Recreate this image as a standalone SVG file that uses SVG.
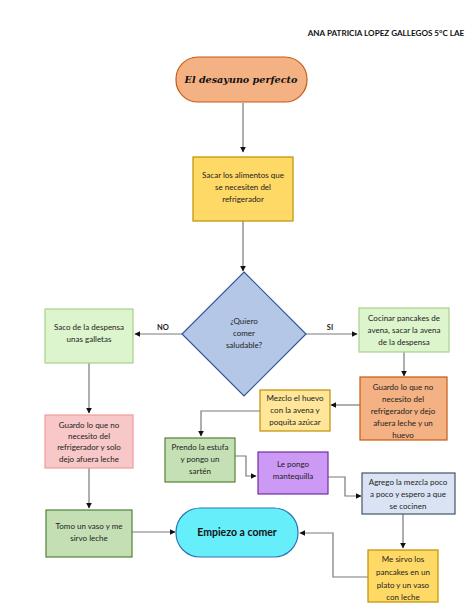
<svg xmlns="http://www.w3.org/2000/svg" width="474" height="613" viewBox="0 0 474 613">
<style>
text{font-family:Lato,"Liberation Sans",sans-serif;font-size:8px;fill:#222;text-anchor:middle}
.b{font-weight:bold}
.c{fill:none;stroke:#7a7a7a;stroke-width:1.2}
</style>
<defs>
<marker id="ah" viewBox="0 0 10 10" refX="9" refY="5" markerWidth="5" markerHeight="5" orient="auto"><path d="M0,0L10,5L0,10z" fill="#111"/></marker>
</defs>
<rect width="474" height="613" fill="#fff"/>
<text x="386" y="36" class="b" style="font-size:8.1px;fill:#111">ANA PATRICIA LOPEZ GALLEGOS 5°C LAE</text>

<g id="connectors">
<path class="c" d="M243,103V152" marker-end="url(#ah)"/>
<path class="c" d="M243,221V271" marker-end="url(#ah)"/>
<path class="c" d="M182,334H135" marker-end="url(#ah)"/>
<path class="c" d="M306,334H357" marker-end="url(#ah)"/>
<path class="c" d="M404,352V376" marker-end="url(#ah)"/>
<path class="c" d="M360,405H331" marker-end="url(#ah)"/>
<path class="c" d="M260,411H201V436" marker-end="url(#ah)"/>
<path class="c" d="M235,456H246V476H256" marker-end="url(#ah)"/>
<path class="c" d="M328,477H345V496H361" marker-end="url(#ah)"/>
<path class="c" d="M403,514V548" marker-end="url(#ah)"/>
<path class="c" d="M368,577H333V533H300" marker-end="url(#ah)"/>
<path class="c" d="M89,363V413" marker-end="url(#ah)"/>
<path class="c" d="M89,468V508" marker-end="url(#ah)"/>
<path class="c" d="M132,532H175" marker-end="url(#ah)"/>
<text x="163" y="330" class="b" style="font-size:7.5px">NO</text>
<text x="330" y="330" class="b" style="font-size:7.5px">SI</text>
</g>

<g id="start">
<rect x="176" y="57" width="131" height="45" rx="22" fill="#F4B183" stroke="#C55A11" stroke-width="1.2"/>
<text x="241" y="83" style="font-family:'DejaVu Serif',serif;font-style:italic;font-weight:bold;font-size:9.6px;fill:#111">El desayuno perfecto</text>
</g>

<g id="sacar">
<rect x="193" y="157" width="100" height="64" fill="#FFD966" stroke="#BF9000" stroke-width="1.2"/>
<text x="243" y="178">Sacar los alimentos que</text>
<text x="243" y="190">se necesiten del</text>
<text x="243" y="202">refrigerador</text>
</g>

<g id="decision">
<polygon points="244,272 306,334 244,396 182,334" fill="#B4C7E7" stroke="#2F5597" stroke-width="1.2"/>
<text x="244" y="324">¿Quiero</text>
<text x="244" y="336">comer</text>
<text x="244" y="348">saludable?</text>
</g>

<g id="saco">
<rect x="45" y="309" width="88" height="54" fill="#DDF5CC" stroke="#A9D18E" stroke-width="1.2"/>
<text x="89" y="330">Saco de la despensa</text>
<text x="89" y="342">unas galletas</text>
</g>

<g id="cocinar">
<rect x="359" y="308" width="90" height="44" fill="#DDF5CC" stroke="#A9D18E" stroke-width="1.2"/>
<text x="404" y="321">Cocinar pancakes de</text>
<text x="404" y="333">avena, sacar la avena</text>
<text x="404" y="345">de la despensa</text>
</g>

<g id="guardo2">
<rect x="360" y="377" width="87" height="63" fill="#F4B183" stroke="#C55A11" stroke-width="1.2"/>
<text x="403" y="390">Guardo lo que no</text>
<text x="403" y="402">necesito del</text>
<text x="403" y="414">refrigerador y dejo</text>
<text x="403" y="426">afuera leche y un</text>
<text x="403" y="438">huevo</text>
</g>

<g id="mezclo">
<rect x="260" y="390" width="70" height="41" fill="#FFE699" stroke="#BF9000" stroke-width="1.2"/>
<text x="295" y="401">Mezclo el huevo</text>
<text x="295" y="413">con la avena y</text>
<text x="295" y="425">poquita azúcar</text>
</g>

<g id="prendo">
<rect x="165" y="438" width="70" height="44" fill="#C5E0B4" stroke="#548235" stroke-width="1.2"/>
<text x="200" y="450">Prendo la estufa</text>
<text x="200" y="462">y pongo un</text>
<text x="200" y="474">sartén</text>
</g>

<g id="mantequilla">
<rect x="258" y="452" width="70" height="42" fill="#CC99F5" stroke="#7030A0" stroke-width="1.2"/>
<text x="293" y="467">Le pongo</text>
<text x="293" y="479">mantequilla</text>
</g>

<g id="agrego">
<rect x="362" y="473" width="93" height="41" fill="#DAE3F3" stroke="#44546A" stroke-width="1.2"/>
<text x="408" y="485">Agrego la mezcla poco</text>
<text x="408" y="497">a poco y espero a que</text>
<text x="408" y="509">se cocinen</text>
</g>

<g id="sirvo">
<rect x="368" y="550" width="70" height="52" fill="#FFD966" stroke="#BF9000" stroke-width="1.2"/>
<text x="403" y="562">Me sirvo los</text>
<text x="403" y="575">pancakes en un</text>
<text x="403" y="588">plato y un vaso</text>
<text x="403" y="600">con leche</text>
</g>

<g id="guardo1">
<rect x="45" y="415" width="88" height="53" fill="#F8C8C8" stroke="#F19C9C" stroke-width="1.2"/>
<text x="89" y="428">Guardo lo que no</text>
<text x="89" y="439">necesito del</text>
<text x="89" y="450">refrigerador y solo</text>
<text x="89" y="462">dejo afuera leche</text>
</g>

<g id="tomo">
<rect x="46" y="510" width="86" height="47" fill="#C5DFB4" stroke="#548235" stroke-width="1.2"/>
<text x="89" y="529">Tomo un vaso y me</text>
<text x="89" y="541">sirvo leche</text>
</g>

<g id="end">
<rect x="176" y="508" width="122" height="49" rx="24" fill="#66EEFB" stroke="#2E75B6" stroke-width="1.2"/>
<text x="237" y="536" class="b" style="font-size:10.5px;fill:#111">Empiezo a comer</text>
</g>
</svg>
